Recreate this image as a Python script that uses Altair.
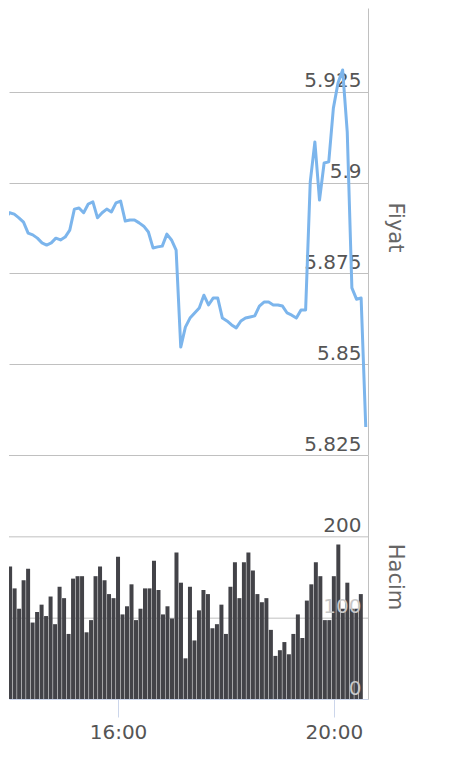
import altair as alt
import pandas as pd

# 5-minute sampling, 13:55 .. 20:30
times = pd.date_range("2019-08-08 13:55", periods=80, freq="5min").strftime("%Y-%m-%dT%H:%M:%S").tolist()

price = [
    5.8925, 5.8900, 5.8917, 5.8913, 5.8903, 5.8891, 5.8861, 5.8856, 5.8847, 5.8834,
    5.8828, 5.8834, 5.8847, 5.8842, 5.8850, 5.8869, 5.8927, 5.8930, 5.8917, 5.8941,
    5.8947, 5.8903, 5.8917, 5.8927, 5.8919, 5.8944, 5.8949, 5.8894, 5.8897, 5.8897,
    5.8889, 5.8880, 5.8864, 5.8820, 5.8823, 5.8825, 5.8858, 5.8842, 5.8814, 5.8547,
    5.8602, 5.8627, 5.8641, 5.8655, 5.8690, 5.8663, 5.8682, 5.8682, 5.8627, 5.8619,
    5.8608, 5.8600, 5.8619, 5.8627, 5.8630, 5.8633, 5.8660, 5.8671, 5.8671, 5.8663,
    5.8663, 5.8660, 5.8641, 5.8635, 5.8627, 5.8649, 5.8649, 5.9002, 5.9112, 5.8952,
    5.9054, 5.9057, 5.9205, 5.9274, 5.9310, 5.9139, 5.8710, 5.8679, 5.8682, 5.8327,
]

volume = [
    160, 163, 136, 111, 146, 160, 94, 107, 116, 102,
    126, 92, 138, 124, 80, 148, 151, 151, 82, 97,
    151, 163, 146, 129, 124, 175, 104, 114, 141, 97,
    111, 136, 136, 170, 134, 104, 114, 99, 180, 143,
    50, 138, 72, 109, 134, 129, 87, 92, 116, 80,
    138, 168, 124, 168, 180, 158, 129, 119, 124, 85,
    53, 60, 70, 55, 80, 104, 75, 121, 141, 168,
    151, 97, 97, 151, 190, 111, 143, 111, 111, 129,
]

price_ticks = [5.825, 5.85, 5.875, 5.9, 5.925]
volume_ticks = [0, 100, 200]
volume_grid = [100, 200, 300]

df = pd.DataFrame({"t": times, "price": price, "volume": volume})

x_scale = alt.Scale(domain=[
    alt.DateTime(year=2019, month=8, date=8, hours=14, minutes=4, seconds=19),
    alt.DateTime(year=2019, month=8, date=8, hours=20, minutes=32, seconds=26),
])
price_scale = alt.Scale(domain=[5.825, 5.94806], nice=False, zero=False)
vol_scale = alt.Scale(domain=[0, 300], nice=False)

FONT = "DejaVu Sans"

top = alt.Chart(df).mark_line(color="#7cb5ec", strokeWidth=3, clip=True, strokeJoin="round").encode(
    x=alt.X("t:T", scale=x_scale, axis=None),
    y=alt.Y("price:Q", scale=price_scale, axis=alt.Axis(
        orient="right", values=price_ticks, format=".3~f",
        grid=True, gridColor="#c0c0c0", ticks=False,
        domain=True, domainColor="#c0c0c0",
        labelAlign="right", labelPadding=-7, labelBaseline="alphabetic", labelOffset=-5,
        labelFont=FONT, labelFontSize=20, labelColor="#555555",
        labelFlush=False, labelOverlap=False,
        title="Fiyat", titleAngle=90, titleBaseline="alphabetic", titleAlign="center",
        titleX=20, titleY=219, titleFont=FONT, titleFontSize=21, titleFontWeight="normal",
        titleColor="#666666", zindex=0,
    )),
).properties(width=359, height=447)

vol_axis = alt.Axis(
    orient="right", values=volume_ticks, grid=False, ticks=False,
    domain=True, domainColor="#c0c0c0",
    labelAlign="right", labelPadding=-7, labelBaseline="alphabetic", labelOffset=-5,
    labelFont=FONT, labelFontSize=20,
    labelColor={"condition": {"test": "datum.value == 200", "value": "#555555"}, "value": "#c8c8c8"},
    labelFlush=False, labelOverlap=False,
    title="Hacim", titleAngle=90, titleBaseline="alphabetic", titleAlign="center",
    titleX=20, titleY=121.5, titleFont=FONT, titleFontSize=21, titleFontWeight="normal",
    titleColor="#666666", zindex=1,
)

grid = alt.Chart(pd.DataFrame({"g": volume_grid})).mark_rule(
    color="#c0c0c0", strokeWidth=1, yOffset=0.5
).encode(y=alt.Y("g:Q", scale=vol_scale, axis=vol_axis, title="Hacim"))

bars = alt.Chart(df).mark_bar(color="#434348", width=4, clip=True).encode(
    x=alt.X("t:T", scale=x_scale, axis=alt.Axis(
        orient="bottom", format="%H:%M",
        values=[alt.DateTime(year=2019, month=8, date=8, hours=16),
                alt.DateTime(year=2019, month=8, date=8, hours=20)],
        grid=False, domainColor="#ccd6eb", tickColor="#ccd6eb", tickSize=18,
        labelFont=FONT, labelFontSize=20, labelColor="#555555",
        labelPadding=5, labelBaseline="top", labelFlush=False, title=None,
    )),
    y=alt.Y("volume:Q", scale=vol_scale, axis=vol_axis, title="Hacim"),
)

bottom = alt.layer(grid, bars).properties(width=359, height=244)

chart = alt.vconcat(top, bottom, spacing=0).properties(
    padding={"left": 0, "top": 0, "right": 18, "bottom": 0}
).configure_view(stroke=None)

chart.save("out.html", embed_options={"renderer": "svg", "actions": False})
